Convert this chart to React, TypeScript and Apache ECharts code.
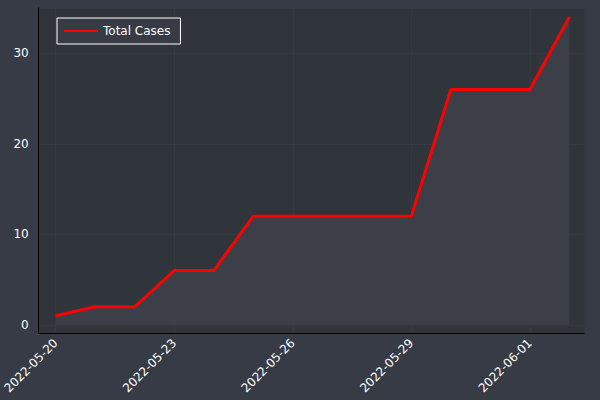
import React, { useEffect, useRef } from "react";
import * as echarts from "echarts";

const dates = ["2022-05-20","2022-05-21","2022-05-22","2022-05-23","2022-05-24","2022-05-25","2022-05-26","2022-05-27","2022-05-28","2022-05-29","2022-05-30","2022-05-31","2022-06-01","2022-06-02"];
const totalCases = [1, 2, 2, 6, 6, 12, 12, 12, 12, 12, 26, 26, 26, 34];
const xTickIdx = [0, 3, 6, 9, 12];
const yTicks = [0, 10, 20, 30];

export default function App() {
  const ref = useRef<HTMLDivElement>(null);
  useEffect(() => {
    const chart = echarts.init(ref.current!, null, { renderer: "svg" });
    chart.setOption({
      animation: false,
      backgroundColor: "#363b45",
      textStyle: { fontFamily: "DejaVu Sans" },
      grid: { left: 38, right: 16, top: 8, bottom: 67, show: true, backgroundColor: "#30343b", borderWidth: 0 },
      legend: {
        left: 57, top: 18, itemWidth: 34, itemHeight: 2, itemGap: 6, padding: [7, 10, 7, 7],
        borderColor: "#ffffff", borderWidth: 1, borderRadius: 0, backgroundColor: "#363b45",
        textStyle: { color: "#ffffff", fontSize: 12 },
        data: [{ name: "Total Cases", icon: "rect" }],
      },
      xAxis: {
        type: "value", min: -0.43, max: 13.37,
        axisLine: { show: true, onZero: false, lineStyle: { color: "#000000" } },
        axisTick: { show: false },
        splitLine: { show: true, customValues: xTickIdx, lineStyle: { color: "#353940", width: 1 } },
        axisLabel: { customValues: xTickIdx, rotate: 45, color: "#ffffff", fontSize: 12, formatter: (v: number) => dates[Math.round(v)] },
      },
      yAxis: {
        type: "value", min: -0.9, max: 35,
        axisLine: { show: true, onZero: false, lineStyle: { color: "#000000" } },
        axisTick: { show: false },
        splitLine: { show: true, customValues: yTicks, lineStyle: { color: "#353940", width: 1 } },
        axisLabel: { customValues: yTicks, color: "#ffffff", fontSize: 12, margin: 10 },
      },
      series: [{
        name: "Total Cases", type: "line", symbol: "none",
        data: totalCases.map((v, i) => [i, v]),
        lineStyle: { color: "#ff0000", width: 3 },
        itemStyle: { color: "#ff0000" },
        areaStyle: { color: "#3c3f47", opacity: 1, origin: 0 },
      }],
    });
    return () => chart.dispose();
  }, []);
  return <div ref={ref} style={{ width: 600, height: 400, position: "absolute", left: 0, top: 0 }} />;
}
